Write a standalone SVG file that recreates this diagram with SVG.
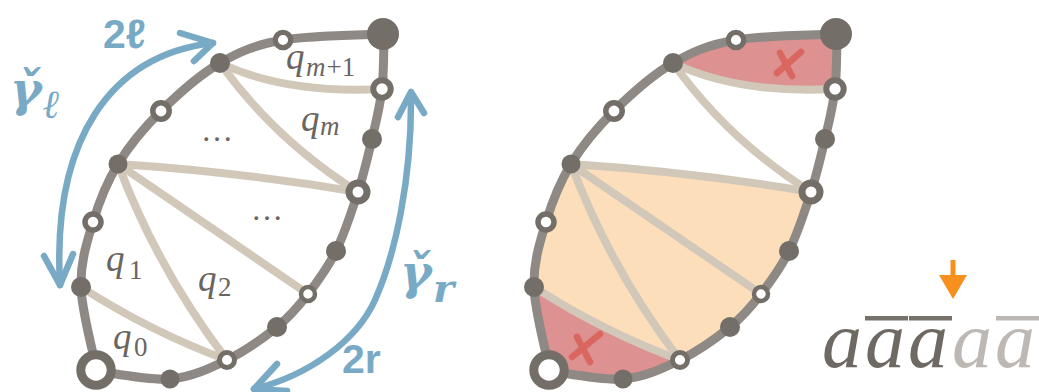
<svg xmlns="http://www.w3.org/2000/svg" xmlns:xlink="http://www.w3.org/1999/xlink" width="1039" height="392" viewBox="0 0 1039 392">
<style>
.outer{fill:none;stroke:#8e8984;stroke-width:9}
.chord{fill:none;stroke:#d2c8ba;stroke-width:8}
.fn{fill:#736e68}
.on{fill:#ffffff;stroke:#736e68}
.blue{fill:none;stroke:#79aac5;stroke-width:6.5;stroke-linecap:round;stroke-linejoin:round}
.bl{fill:#79aac5}
.q{font-family:"Liberation Serif","DejaVu Serif",serif;font-style:italic;fill:#6b6560}
.up{font-style:normal}
.x{fill:none;stroke:#d9665f;stroke-width:6.5;stroke-linecap:round}
.a{font-family:"Liberation Serif","DejaVu Serif",serif;font-style:italic;font-size:80px;text-anchor:middle}
</style>
<defs>
<path id="outline" d="M97,371 C94.3,357 81.7,311.8 81,287 C80.3,262.2 86.8,242.5 93,222 C99.2,201.5 106.7,182.5 118,164 C129.3,145.5 144,127.8 161,111 C178,94.2 199.7,74.8 220,63 C240.3,51.2 255.7,44.8 283,40 C310.3,35.2 367.2,35 384,34 C383.7,43.2 384,71.5 382,89 C380,106.5 376,121.8 372,139 C368,156.2 364,173.3 358,192 C352,210.7 344.3,234 336,251 C327.7,268 317.8,281.3 308,294 C298.2,306.7 290.5,316 277,327 C263.5,338 244.8,351.3 227,360 C209.2,368.7 191.7,377.2 170,379 C148.3,380.8 109.2,372.3 97,371 Z"/>
<g id="chords">
<path d="M220,63 Q285,94 382,89"/>
<path d="M220,63 Q275,140 358,192"/>
<path d="M118,164 Q240,172 358,192"/>
<path d="M118,164 L308,294"/>
<path d="M118,164 Q158,270 227,360"/>
<path d="M81,287 Q150,331.5 227,360"/>
</g>
</defs>

<!-- LEFT FIGURE -->
<g id="left-figure">
  <g id="L-connectors" class="chord"><use xlink:href="#chords"/></g>
  <use xlink:href="#outline" class="outer"/>
  <g id="L-nodes">
    <g id="L-n1"><circle class="fn" cx="383" cy="34" r="16"/></g>
    <g id="L-n2"><circle class="on" cx="283" cy="40" r="7.7" stroke-width="5.3"/></g>
    <g id="L-n3"><circle class="fn" cx="220" cy="63" r="10"/></g>
    <g id="L-n4"><circle class="on" cx="161" cy="111" r="8.2" stroke-width="5.5"/></g>
    <g id="L-n5"><circle class="fn" cx="118" cy="164" r="9.5"/></g>
    <g id="L-n6"><circle class="on" cx="93" cy="222" r="8" stroke-width="5.5"/></g>
    <g id="L-n7"><circle class="fn" cx="81" cy="287" r="10"/></g>
    <g id="L-n8"><circle class="on" cx="96" cy="370" r="15.2" stroke-width="9"/></g>
    <g id="L-n9"><circle class="fn" cx="170" cy="379" r="9.5"/></g>
    <g id="L-n10"><circle class="on" cx="227" cy="360" r="7.5" stroke-width="5"/></g>
    <g id="L-n11"><circle class="fn" cx="277" cy="327" r="10"/></g>
    <g id="L-n12"><circle class="on" cx="308" cy="294" r="7" stroke-width="4.5"/></g>
    <g id="L-n13"><circle class="fn" cx="336" cy="251" r="10"/></g>
    <g id="L-n14"><circle class="on" cx="358" cy="192" r="9" stroke-width="7"/></g>
    <g id="L-n15"><circle class="fn" cx="372" cy="139" r="10"/></g>
    <g id="L-n16"><circle class="on" cx="382" cy="89" r="8.7" stroke-width="6"/></g>
  </g>
  <g id="L-labels" class="q">
    <text x="286" y="69" font-size="37">q</text>
    <text x="306" y="76" font-size="27">m<tspan class="up" dx="1">+1</tspan></text>
    <text x="301" y="131" font-size="37">q</text>
    <text x="320" y="135" font-size="27">m</text>
    <text x="106" y="271" font-size="37">q</text>
    <text x="129" y="279" font-size="27" class="up">1</text>
    <text x="198" y="291" font-size="37">q</text>
    <text x="218" y="296" font-size="27" class="up">2</text>
    <text x="113" y="349" font-size="37">q</text>
    <text x="134" y="356" font-size="27" class="up">0</text>
    <text x="217" y="141" font-size="32" text-anchor="middle" class="up">…</text>
    <text x="267" y="220" font-size="32" text-anchor="middle" class="up">…</text>
  </g>
  <g id="L-arrows" class="blue">
    <path d="M60,285 C52,140 110,55 213,43"/>
    <path d="M180,33 L213,43 L194,61"/>
    <path d="M44,256 L60,285 L73,254"/>
    <path d="M411,93 C412,180 395,255 375,300 C357,340 310,375 254,389"/>
    <path d="M398,117 L411,92 L424,113"/>
    <path d="M277,364 L254,389 L287,391"/>
  </g>
  <g id="L-arrow-labels" class="bl">
    <text x="103" y="48" font-family="Liberation Sans, DejaVu Sans, sans-serif" font-weight="bold" font-size="41">2ℓ</text>
    <text x="342" y="373" font-family="Liberation Sans, DejaVu Sans, sans-serif" font-weight="bold" font-size="41">2r</text>
    <text x="10" y="106" font-family="DejaVu Serif, serif" font-style="italic" font-weight="bold" font-size="48">γ̌</text>
    <text x="43" y="118" font-family="DejaVu Serif, serif" font-style="italic" font-weight="bold" font-size="40">ℓ</text>
    <text x="400" y="289" font-family="DejaVu Serif, serif" font-style="italic" font-weight="bold" font-size="48">γ̌</text>
    <text x="433" y="302" font-family="DejaVu Serif, serif" font-style="italic" font-weight="bold" font-size="40">r</text>
  </g>
</g>

<!-- RIGHT FIGURE -->
<g id="right-figure" transform="translate(453,0)">
  <g id="R-fills">
    <path fill="#fddebb" d="M118,164 Q240,172 358,192 C352,210.7 344.3,234 336,251 C327.7,268 317.8,281.3 308,294 C298.2,306.7 290.5,316 277,327 C263.5,338 244.8,351.3 227,360 Q150,331.5 81,287 C80.3,262.2 86.8,242.5 93,222 C99.2,201.5 106.7,182.5 118,164 Z"/>
    <path fill="#dd9190" d="M220,63 C240.3,51.2 255.7,44.8 283,40 C310.3,35.2 367.2,35 384,34 C383.7,43.2 384,71.5 382,89 Q285,94 220,63 Z"/>
    <path fill="#dd9190" d="M81,287 Q150,331.5 227,360 C209.2,368.7 191.7,377.2 170,379 C148.3,380.8 109.2,372.3 97,371 C94.3,357 81.7,311.8 81,287 Z"/>
  </g>
  <g id="R-connectors" class="chord"><use xlink:href="#chords"/></g>
  <use xlink:href="#outline" class="outer"/>
  <g id="R-marks" class="x">
    <path d="M324,73 L348,52"/>
    <path d="M327,53 L339,76"/>
    <path d="M119,357 L147,334"/>
    <path d="M124,337 L137,362"/>
  </g>
  <g id="R-nodes">
    <g id="R-n1"><circle class="fn" cx="383" cy="34" r="16"/></g>
    <g id="R-n2"><circle class="on" cx="283" cy="40" r="7.7" stroke-width="5.3"/></g>
    <g id="R-n3"><circle class="fn" cx="220" cy="63" r="10"/></g>
    <g id="R-n4"><circle class="on" cx="161" cy="111" r="8.2" stroke-width="5.5"/></g>
    <g id="R-n5"><circle class="fn" cx="118" cy="164" r="9.5"/></g>
    <g id="R-n6"><circle class="on" cx="93" cy="222" r="8" stroke-width="5.5"/></g>
    <g id="R-n7"><circle class="fn" cx="81" cy="287" r="10"/></g>
    <g id="R-n8"><circle class="on" cx="96" cy="370" r="15.2" stroke-width="9"/></g>
    <g id="R-n9"><circle class="fn" cx="170" cy="379" r="9.5"/></g>
    <g id="R-n10"><circle class="on" cx="227" cy="360" r="7.5" stroke-width="5"/></g>
    <g id="R-n11"><circle class="fn" cx="277" cy="327" r="10"/></g>
    <g id="R-n12"><circle class="on" cx="308" cy="294" r="7" stroke-width="4.5"/></g>
    <g id="R-n13"><circle class="fn" cx="336" cy="251" r="10"/></g>
    <g id="R-n14"><circle class="on" cx="358" cy="192" r="9" stroke-width="7"/></g>
    <g id="R-n15"><circle class="fn" cx="372" cy="139" r="10"/></g>
    <g id="R-n16"><circle class="on" cx="382" cy="89" r="8.7" stroke-width="6"/></g>
  </g>
</g>

<!-- WORD -->
<g id="word">
  <path d="M953,260 L953,280" stroke="#f7901e" stroke-width="5" fill="none"/>
  <path d="M939,275 L967,275 L953,299 Z" fill="#f7901e"/>
  <rect x="865" y="316" width="43" height="4.5" fill="#77716b"/>
  <rect x="909" y="316" width="43" height="4.5" fill="#77716b"/>
  <rect x="996" y="316" width="43" height="4.5" fill="#bcb7b2"/>
  <text class="a" x="842" y="367" fill="#6e6963">a</text>
  <text class="a" x="885" y="367" fill="#6e6963">a</text>
  <text class="a" x="928" y="367" fill="#6e6963">a</text>
  <text class="a" x="972" y="367" fill="#bdb8b3">a</text>
  <text class="a" x="1015" y="367" fill="#bdb8b3">a</text>
</g>
</svg>
